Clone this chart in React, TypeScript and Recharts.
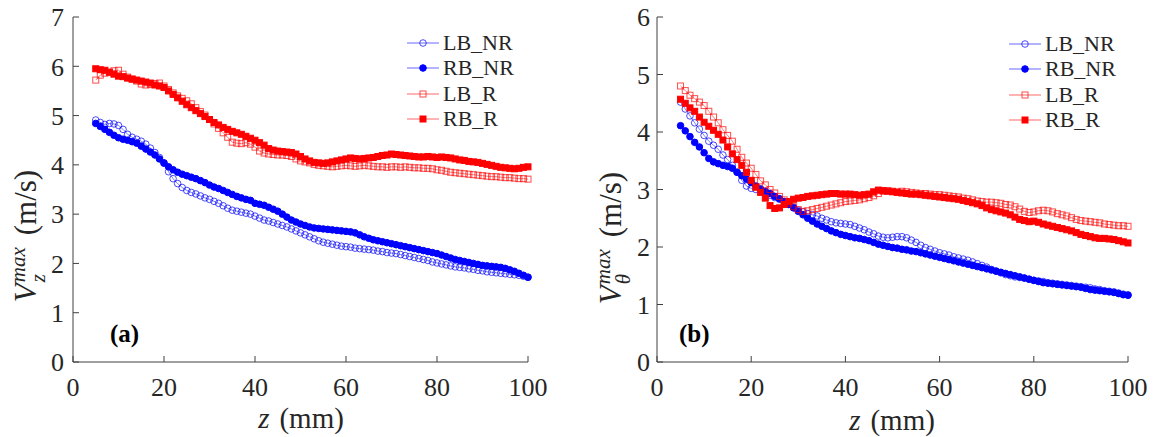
import React from "react";
import { LineChart, Line, XAxis, YAxis, Legend } from "recharts";

// z positions (mm), one sample per mm
const zValues = [
  5, 6, 7, 8, 9, 10, 11, 12, 13, 14,
  15, 16, 17, 18, 19, 20, 21, 22, 23, 24,
  25, 26, 27, 28, 29, 30, 31, 32, 33, 34,
  35, 36, 37, 38, 39, 40, 41, 42, 43, 44,
  45, 46, 47, 48, 49, 50, 51, 52, 53, 54,
  55, 56, 57, 58, 59, 60, 61, 62, 63, 64,
  65, 66, 67, 68, 69, 70, 71, 72, 73, 74,
  75, 76, 77, 78, 79, 80, 81, 82, 83, 84,
  85, 86, 87, 88, 89, 90, 91, 92, 93, 94,
  95, 96, 97, 98, 99, 100,
];

// (a) Vz max
const aLBNR = [
  4.91, 4.86, 4.82, 4.84, 4.83, 4.80, 4.72, 4.62, 4.56, 4.52,
  4.48, 4.42, 4.34, 4.25, 4.15, 4.03, 3.86, 3.72, 3.62, 3.54,
  3.48, 3.44, 3.41, 3.37, 3.33, 3.30, 3.26, 3.22, 3.17, 3.12,
  3.08, 3.06, 3.04, 3.02, 3.00, 2.96, 2.92, 2.88, 2.86, 2.83,
  2.80, 2.77, 2.74, 2.70, 2.66, 2.62, 2.58, 2.54, 2.50, 2.46,
  2.43, 2.41, 2.39, 2.37, 2.35, 2.34, 2.33, 2.31, 2.30, 2.29,
  2.28, 2.27, 2.25, 2.24, 2.22, 2.21, 2.20, 2.18, 2.16, 2.14,
  2.12, 2.10, 2.08, 2.06, 2.03, 2.01, 1.99, 1.97, 1.95, 1.93,
  1.92, 1.91, 1.89, 1.88, 1.86, 1.85, 1.83, 1.82, 1.81, 1.80,
  1.79, 1.78, 1.77, 1.76, 1.74, 1.72,
];
const aRBNR = [
  4.84, 4.78, 4.72, 4.66, 4.60, 4.55, 4.52, 4.50, 4.47, 4.44,
  4.38, 4.32, 4.26, 4.20, 4.12, 4.04, 3.96, 3.90, 3.85, 3.81,
  3.78, 3.75, 3.72, 3.68, 3.64, 3.59, 3.55, 3.52, 3.48, 3.44,
  3.40, 3.36, 3.33, 3.30, 3.28, 3.22, 3.20, 3.18, 3.14, 3.10,
  3.06, 3.00, 2.94, 2.88, 2.84, 2.80, 2.77, 2.74, 2.72, 2.71,
  2.70, 2.69, 2.68, 2.67, 2.66, 2.65, 2.64, 2.62, 2.58, 2.54,
  2.51, 2.48, 2.46, 2.44, 2.42, 2.40, 2.38, 2.36, 2.34, 2.32,
  2.30, 2.28, 2.26, 2.24, 2.22, 2.20, 2.17, 2.14, 2.11, 2.08,
  2.06, 2.04, 2.02, 2.00, 1.98, 1.96, 1.95, 1.94, 1.93, 1.92,
  1.90, 1.87, 1.84, 1.80, 1.76, 1.72,
];
const aLBR = [
  5.72, 5.82, 5.86, 5.88, 5.91, 5.92, 5.84, 5.78, 5.74, 5.70,
  5.64, 5.62, 5.63, 5.65, 5.66, 5.60, 5.53, 5.46, 5.40, 5.35,
  5.30, 5.24, 5.16, 5.08, 5.01, 4.92, 4.83, 4.74, 4.65, 4.56,
  4.46, 4.44, 4.43, 4.45, 4.42, 4.36, 4.28, 4.24, 4.22, 4.21,
  4.20, 4.20, 4.19, 4.17, 4.12, 4.08, 4.06, 4.04, 4.01, 3.99,
  3.98, 3.97, 3.96, 3.97, 3.98, 3.99, 3.98, 3.97, 3.98, 3.99,
  3.98, 3.97, 3.96, 3.96, 3.95, 3.96, 3.96, 3.95, 3.96, 3.95,
  3.94, 3.94, 3.93, 3.93, 3.92, 3.90, 3.89, 3.87, 3.85, 3.84,
  3.83, 3.82, 3.81, 3.80, 3.79, 3.78, 3.77, 3.76, 3.76, 3.75,
  3.74, 3.74, 3.73, 3.72, 3.72, 3.71,
];
const aRBR = [
  5.95, 5.93, 5.92, 5.88, 5.84, 5.80, 5.79, 5.76, 5.74, 5.72,
  5.70, 5.68, 5.66, 5.62, 5.60, 5.57, 5.50, 5.43, 5.36, 5.29,
  5.22, 5.16, 5.10, 5.04, 4.98, 4.92, 4.86, 4.81, 4.76, 4.72,
  4.68, 4.65, 4.62, 4.58, 4.54, 4.50, 4.45, 4.40, 4.33, 4.30,
  4.28, 4.27, 4.26, 4.25, 4.22, 4.17, 4.12, 4.08, 4.05, 4.04,
  4.03, 4.04, 4.06, 4.08, 4.10, 4.12, 4.14, 4.13, 4.12, 4.13,
  4.14, 4.15, 4.17, 4.19, 4.20, 4.22, 4.21, 4.20, 4.19, 4.18,
  4.17, 4.16, 4.16, 4.17, 4.16, 4.15, 4.16, 4.15, 4.14, 4.12,
  4.10, 4.09, 4.07, 4.06, 4.05, 4.03, 4.01, 3.99, 3.97, 3.95,
  3.94, 3.93, 3.92, 3.93, 3.95, 3.96,
];

// (b) Vtheta max
const bLBNR = [
  4.52, 4.40, 4.28, 4.16, 4.05, 3.94, 3.84, 3.77, 3.70, 3.60,
  3.52, 3.42, 3.30, 3.16, 3.06, 3.02, 3.00, 2.98, 2.94, 2.90,
  2.86, 2.83, 2.79, 2.74, 2.69, 2.64, 2.61, 2.58, 2.56, 2.54,
  2.50, 2.47, 2.44, 2.42, 2.41, 2.40, 2.39, 2.36, 2.33, 2.30,
  2.26, 2.23, 2.19, 2.17, 2.16, 2.17, 2.18, 2.18, 2.16, 2.12,
  2.08, 2.03, 1.99, 1.96, 1.93, 1.90, 1.88, 1.86, 1.83, 1.81,
  1.79, 1.77, 1.74, 1.71, 1.68, 1.65, 1.61, 1.58, 1.55, 1.52,
  1.50, 1.48, 1.47, 1.46, 1.44, 1.42, 1.41, 1.40, 1.38, 1.37,
  1.36, 1.35, 1.34, 1.33, 1.32, 1.31, 1.30, 1.29, 1.27, 1.26,
  1.24, 1.23, 1.22, 1.20, 1.18, 1.17,
];
const bRBNR = [
  4.11, 4.02, 3.92, 3.82, 3.74, 3.64, 3.54, 3.48, 3.45, 3.42,
  3.40, 3.37, 3.30, 3.24, 3.18, 3.12, 3.06, 3.01, 2.97, 2.93,
  2.88, 2.84, 2.79, 2.74, 2.68, 2.62, 2.56, 2.50, 2.45, 2.40,
  2.36, 2.32, 2.28, 2.25, 2.22, 2.20, 2.18, 2.16, 2.15, 2.13,
  2.11, 2.08, 2.05, 2.03, 2.01, 1.99, 1.98, 1.96, 1.95, 1.93,
  1.92, 1.90, 1.88, 1.86, 1.84, 1.82, 1.80, 1.78, 1.76, 1.74,
  1.72, 1.70, 1.68, 1.66, 1.64, 1.62, 1.60, 1.58, 1.56, 1.54,
  1.52, 1.50, 1.48, 1.46, 1.44, 1.42, 1.40, 1.38, 1.37, 1.36,
  1.35, 1.34, 1.33, 1.32, 1.31, 1.30, 1.28, 1.26, 1.25, 1.24,
  1.23, 1.22, 1.21, 1.19, 1.17, 1.16,
];
const bLBR = [
  4.80, 4.72, 4.64, 4.58, 4.52, 4.46, 4.36, 4.26, 4.16, 4.04,
  3.94, 3.84, 3.70, 3.56, 3.46, 3.37, 3.26, 3.15, 3.08, 3.00,
  2.94, 2.88, 2.82, 2.76, 2.70, 2.65, 2.62, 2.63, 2.65, 2.67,
  2.69, 2.71, 2.73, 2.75, 2.77, 2.79, 2.80, 2.81, 2.82, 2.84,
  2.86, 2.89, 2.93, 2.97, 2.98, 2.97, 2.96, 2.97, 2.96, 2.95,
  2.94, 2.93, 2.93, 2.92, 2.91, 2.91, 2.90, 2.89, 2.88, 2.87,
  2.85, 2.84, 2.82, 2.80, 2.79, 2.78, 2.78, 2.77, 2.76, 2.74,
  2.73, 2.70, 2.66, 2.62, 2.60, 2.61, 2.63, 2.64, 2.63, 2.61,
  2.58, 2.56, 2.54, 2.51, 2.48, 2.46, 2.45, 2.44, 2.43, 2.42,
  2.40, 2.39, 2.38, 2.37, 2.37, 2.36,
];
const bRBR = [
  4.57, 4.50, 4.42, 4.36, 4.26, 4.17, 4.10, 4.03, 3.96, 3.86,
  3.74, 3.62, 3.52, 3.42, 3.30, 3.16, 3.04, 2.95, 2.85, 2.72,
  2.67, 2.68, 2.74, 2.79, 2.83, 2.85, 2.86, 2.88, 2.89, 2.90,
  2.91, 2.92, 2.93, 2.93, 2.92, 2.92, 2.92, 2.91, 2.90, 2.91,
  2.92, 2.96, 2.99, 2.98, 2.97, 2.96, 2.95, 2.94, 2.93, 2.92,
  2.92, 2.91, 2.90, 2.89, 2.88, 2.87, 2.86, 2.85, 2.84, 2.83,
  2.81, 2.79, 2.77, 2.75, 2.72, 2.68, 2.65, 2.63, 2.61, 2.59,
  2.56, 2.52, 2.48, 2.46, 2.44, 2.45, 2.43, 2.40, 2.38, 2.36,
  2.34, 2.32, 2.30, 2.28, 2.25, 2.22, 2.20, 2.18, 2.16, 2.15,
  2.15, 2.14, 2.13, 2.11, 2.09, 2.07,
];

const xTicks = [0, 20, 40, 60, 80, 100];
const yTicksA = [0, 1, 2, 3, 4, 5, 6, 7];
const yTicksB = [0, 1, 2, 3, 4, 5, 6];

const seriesNames = ["LB_NR", "RB_NR", "LB_R", "RB_R"];
const seriesKeys = ["lbnr", "rbnr", "lbr", "rbr"];
const seriesColors = ["#0000ff", "#0000ff", "#ff0000", "#ff0000"];
const seriesShapes = ["circle", "circle", "square", "square"];
const seriesFilled = [false, true, false, true];

const dataA = zValues.map((z, i) => ({ z, lbnr: aLBNR[i], rbnr: aRBNR[i], lbr: aLBR[i], rbr: aRBR[i] }));
const dataB = zValues.map((z, i) => ({ z, lbnr: bLBNR[i], rbnr: bRBNR[i], lbr: bLBR[i], rbr: bRBR[i] }));

const FONT = "'Liberation Serif', 'Times New Roman', serif";
const AXIS = "#404040";
const TEXT = "#262626";

function Marker({ cx, cy, shape, filled, color }: any) {
  if (shape === "circle") {
    return (
      <circle cx={cx} cy={cy} r={3.3} fill={filled ? color : "none"}
        stroke={color} strokeWidth={1} strokeOpacity={filled ? 1 : 0.7} />
    );
  }
  return (
    <rect x={cx - 3} y={cy - 3} width={6} height={6} fill={filled ? color : "none"}
      stroke={color} strokeWidth={1} strokeOpacity={filled ? 1 : 0.7} />
  );
}

function makeDot(i: number) {
  return (props: any) => {
    const { cx, cy, index } = props;
    if (cx == null || cy == null) return <g key={`d-${index}`} />;
    return (
      <g key={`d-${index}`}>
        <Marker cx={cx} cy={cy} shape={seriesShapes[i]} filled={seriesFilled[i]} color={seriesColors[i]} />
      </g>
    );
  };
}

function LegendBox() {
  return (
    <div style={{ fontFamily: FONT, fontSize: 22, color: TEXT }}>
      {seriesNames.map((name, i) => (
        <div key={name} style={{ display: "flex", alignItems: "center", height: 25.5 }}>
          <svg width={36} height={14} style={{ display: "block" }}>
            <line x1={2} y1={7} x2={34} y2={7} stroke={seriesColors[i]} strokeOpacity={0.5} strokeWidth={1.2} />
            <Marker cx={18} cy={7} shape={seriesShapes[i]} filled={seriesFilled[i]} color={seriesColors[i]} />
          </svg>
          <span style={{ marginLeft: 2, lineHeight: 1 }}>{name}</span>
        </div>
      ))}
    </div>
  );
}

function Panel({ left, width, yAxisW, rightM, data, yMax, yTicks, legendLeft, legendTop, tickGap }: any) {
  return (
    <div style={{ position: "absolute", left, top: 0 }}>
      <LineChart width={width} height={437} data={data}
        margin={{ top: 17, right: rightM, left: 0, bottom: 0 }}>
        <XAxis xAxisId="b" dataKey="z" type="number" domain={[0, 100]} ticks={xTicks}
          height={75} stroke={AXIS} tickSize={-6} tickMargin={22}
          tick={{ fill: TEXT, fontSize: 26, fontFamily: FONT }} />
        <XAxis xAxisId="t" orientation="top" dataKey="z" type="number" domain={[0, 100]} ticks={xTicks}
          height={0} stroke={AXIS} tickSize={-6} tickFormatter={() => ""} />
        <YAxis yAxisId="l" type="number" domain={[0, yMax]} ticks={yTicks} width={yAxisW}
          stroke={AXIS} tickSize={-6} tickMargin={tickGap}
          tick={{ fill: TEXT, fontSize: 26, fontFamily: FONT }} />
        <YAxis yAxisId="r" orientation="right" type="number" domain={[0, yMax]} ticks={yTicks} width={0}
          stroke={AXIS} tickSize={-6} tickFormatter={() => ""} />
        {seriesKeys.map((k, i) => (
          <Line key={k} xAxisId="b" yAxisId="l" dataKey={k} name={seriesNames[i]}
            stroke={seriesColors[i]} strokeOpacity={0.5} strokeWidth={1}
            dot={makeDot(i)} activeDot={false} isAnimationActive={false} />
        ))}
        <Legend layout="vertical" align="center" verticalAlign="middle"
          wrapperStyle={{ left: legendLeft, top: legendTop, width: 140 }}
          content={() => <LegendBox />} />
      </LineChart>
    </div>
  );
}

function YTitle({ x, y, sub }: { x: number; y: number; sub: string }) {
  return (
    <div style={{
      position: "absolute", left: x, top: y, transform: "translate(-50%, -50%) rotate(-90deg)",
      whiteSpace: "nowrap", fontFamily: FONT, fontSize: 31, color: TEXT, lineHeight: 1,
    }}>
      <span style={{ fontStyle: "italic" }}>V</span>
      <span style={{ display: "inline-flex", flexDirection: "column", verticalAlign: "middle",
        fontSize: 21, fontStyle: "italic", lineHeight: 0.95, marginLeft: 1 }}>
        <span>max</span>
        <span>{sub}</span>
      </span>
      <span style={{ marginLeft: 12 }}>(m/s)</span>
    </div>
  );
}

function XTitle({ x, y }: { x: number; y: number }) {
  return (
    <div style={{
      position: "absolute", left: x, top: y, transform: "translate(-50%, -50%)",
      whiteSpace: "nowrap", fontFamily: FONT, fontSize: 29, color: TEXT, lineHeight: 1,
    }}>
      <span style={{ fontStyle: "italic" }}>z</span>
      <span style={{ marginLeft: 10 }}>(mm)</span>
    </div>
  );
}

function Tag({ x, y, text }: { x: number; y: number; text: string }) {
  return (
    <div style={{
      position: "absolute", left: x, top: y, transform: "translateY(-50%)",
      fontFamily: FONT, fontSize: 25, fontWeight: "bold", color: "#000", lineHeight: 1,
    }}>{text}</div>
  );
}

export default function App() {
  return (
    <div style={{ position: "absolute", left: 0, top: 0, width: 1155, height: 437, background: "#fff", overflow: "hidden" }}>
      <Panel left={0} width={560} yAxisW={73} rightM={32} data={dataA} yMax={7} yTicks={yTicksA}
        legendLeft={405} legendTop={30} tickGap={15} />
      <Panel left={560} width={595} yAxisW={97} rightM={27} data={dataB} yMax={6} yTicks={yTicksB}
        legendLeft={447} legendTop={31} tickGap={13} />
      <YTitle x={29} y={236} sub="z" />
      <YTitle x={614} y={238} sub="θ" />
      <XTitle x={301} y={418} />
      <XTitle x={892} y={420} />
      <Tag x={110} y={333} text="(a)" />
      <Tag x={679} y={333} text="(b)" />
    </div>
  );
}
